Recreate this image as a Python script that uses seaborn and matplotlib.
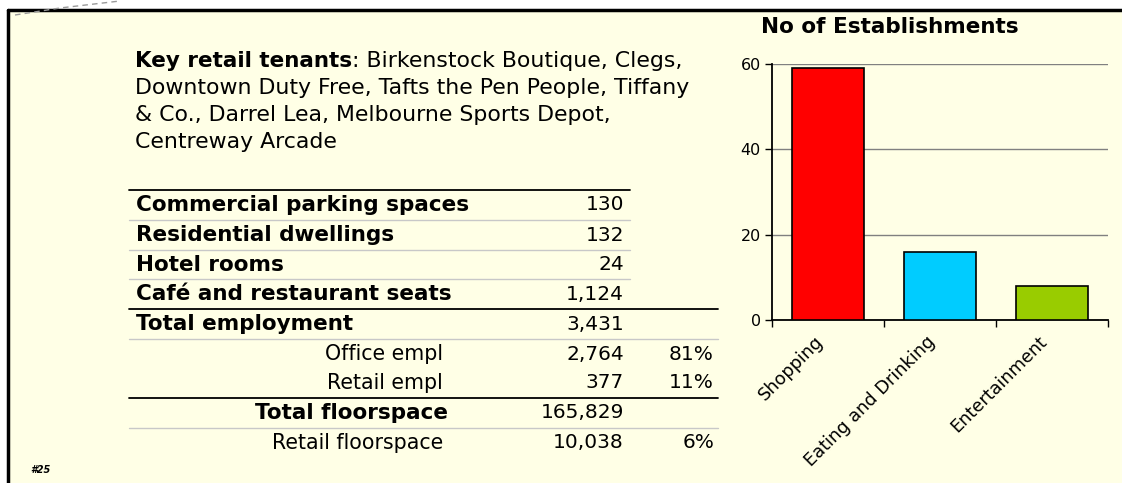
import matplotlib
matplotlib.use("Agg")
import matplotlib.pyplot as plt
import matplotlib.transforms as mtrans
from matplotlib.lines import Line2D
import seaborn as sns

# data
categories = ["Shopping", "Eating and Drinking", "Entertainment"]
counts = [59, 16, 8]
bar_colors = ["#FF0000", "#00CCFF", "#99CC00"]

tenants_head = "Key retail tenants"
tenants_lines = [": Birkenstock Boutique, Clegs,",
                 "Downtown Duty Free, Tafts the Pen People, Tiffany",
                 "& Co., Darrel Lea, Melbourne Sports Depot,",
                 "Centreway Arcade"]

row_labels = ["Commercial parking spaces", "Residential dwellings", "Hotel rooms",
              "Café and restaurant seats", "Total employment", "Office empl",
              "Retail empl", "Total floorspace", "Retail floorspace"]
row_values = ["130", "132", "24", "1,124", "3,431", "2,764", "377", "165,829", "10,038"]
row_pcts = ["", "", "", "", "", "81%", "11%", "", "6%"]

W, H = 1122, 483
bg = "#FFFFE6"

sns.set_style("white")
plt.rcParams["font.family"] = ["DejaVu Sans"]
plt.rcParams["text.color"] = "black"
plt.rcParams["xtick.color"] = "black"
plt.rcParams["ytick.color"] = "black"

fig = plt.figure(figsize=(W / 100, H / 100), dpi=100)
fig.patch.set_facecolor("white")

def fx(px):
    return px / W

def fy(py):
    return 1 - py / H

# yellow page with black border on top and left
fig.patches.append(plt.Rectangle((fx(8), 0), 1, fy(10), transform=fig.transFigure,
                                 facecolor=bg, edgecolor="none", zorder=-5))
fig.add_artist(Line2D([fx(8), 1], [fy(10), fy(10)], color="black", lw=2.5))
fig.add_artist(Line2D([fx(8), fx(8)], [fy(10), 0], color="black", lw=2.5))
fig.add_artist(Line2D([fx(15), fx(60), fx(120)], [fy(15), fy(8), fy(1)],
                      color="#999999", lw=1, ls=(0, (4, 3))))

fs = 15.5
fsn = 14.5

# tenants paragraph
renderer = fig.canvas.get_renderer()
t = fig.text(fx(135), fy(61), tenants_head, fontsize=fs, fontweight="bold", va="center")
bb = t.get_window_extent(renderer)
fig.text(bb.x1 / W, fy(61), tenants_lines[0], fontsize=15.8, va="center")
for i, line in enumerate(tenants_lines[1:]):
    fig.text(fx(135), fy(88 + 27 * i), line, fontsize=15.8, va="center")

# table
row_y = [205, 235, 265, 294, 324, 354, 383, 413, 443]
for i, lab in enumerate(row_labels):
    if i < 5:
        fig.text(fx(136), fy(row_y[i]), lab, fontsize=fs, fontweight="bold", va="center")
    elif i == 7:
        fig.text(fx(448), fy(row_y[i]), lab, fontsize=fs, fontweight="bold", va="center", ha="right")
    else:
        fig.text(fx(443), fy(row_y[i]), lab, fontsize=14.8, va="center", ha="right")
    fig.text(fx(624), fy(row_y[i]), row_values[i], fontsize=fsn, va="center", ha="right")
    if row_pcts[i]:
        fig.text(fx(714), fy(row_y[i]), row_pcts[i], fontsize=fsn, va="center", ha="right")

def hline(py, x1, color, lw):
    fig.add_artist(Line2D([fx(129), fx(x1)], [fy(py), fy(py)], color=color, lw=lw))

hline(190, 630, "black", 1.3)
for py in [220, 250, 279]:
    hline(py, 630, "#C8C8C8", 1)
hline(309, 718, "black", 1.3)
hline(339, 718, "#C8C8C8", 1)
hline(398, 718, "black", 1.3)
hline(428, 718, "#C8C8C8", 1)

fig.text(fx(30), fy(470), "#25", fontsize=7, fontstyle="italic", fontweight="bold", va="center")

# bar chart
ax = fig.add_axes([fx(772), fy(320), fx(1108 - 772), (320 - 64) / H])
ax.set_facecolor("none")
sns.barplot(x=categories, y=counts, hue=categories, palette=bar_colors, legend=False,
            saturation=1, edgecolor="black", linewidth=1.2, width=0.64, ax=ax, zorder=3)
ax.set_ylim(0, 60)
ax.set_xlim(-0.5, 2.5)
ax.set_yticks([0, 20, 40, 60])
ax.yaxis.grid(True, color="#808080", lw=1)
ax.set_axisbelow(True)
for s in ["top", "right"]:
    ax.spines[s].set_visible(False)
for s in ["left", "bottom"]:
    ax.spines[s].set_color("black")
    ax.spines[s].set_linewidth(1.3)
ax.tick_params(axis="y", direction="out", length=5, width=1, labelsize=11.5, pad=3, left=True)
ax.tick_params(axis="x", which="major", length=0, labelsize=12.8, pad=8)
ax.set_xticks([-0.5, 0.5, 1.5, 2.5], minor=True)
ax.tick_params(axis="x", which="minor", direction="out", length=5, width=1, bottom=True)
ax.set_xticks(range(len(categories)))
ax.set_xticklabels(categories, rotation=45, ha="right", va="center", rotation_mode="anchor")
shift = mtrans.ScaledTranslation(-8 / 100, -8 / 100, fig.dpi_scale_trans)
for lab in ax.get_xticklabels():
    lab.set_transform(lab.get_transform() + shift)
ax.set_xlabel("")
ax.set_ylabel("")
ax.set_title("No of Establishments", fontsize=fs, fontweight="bold", x=0.35, y=1.0, pad=22)

fig.savefig("out.png", dpi=100, facecolor=fig.get_facecolor())
